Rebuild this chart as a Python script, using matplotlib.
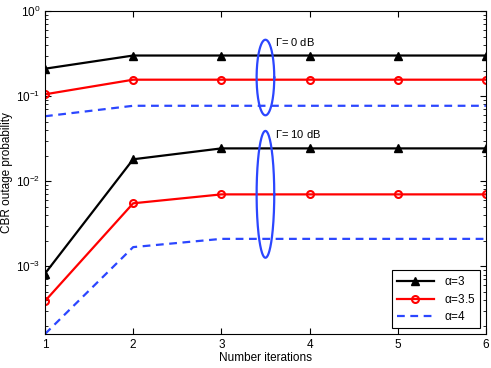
import numpy as np
import matplotlib
matplotlib.use("Agg")
import matplotlib.pyplot as plt

plt.rcParams['font.family'] = ['Liberation Sans', 'DejaVu Sans']
plt.rcParams['mathtext.fontset'] = 'custom'
plt.rcParams['mathtext.rm'] = 'Liberation Sans'
plt.rcParams['mathtext.it'] = 'Liberation Sans'

iterations = [1, 2, 3, 4, 5, 6]

# Gamma = 0 dB
a3_g0 = [0.21, 0.30, 0.30, 0.30, 0.30, 0.30]
a35_g0 = [0.105, 0.156, 0.156, 0.156, 0.156, 0.156]
a4_g0 = [0.058, 0.077, 0.077, 0.077, 0.077, 0.077]

# Gamma = 10 dB
a3_g10 = [8.2e-4, 0.0181, 0.0243, 0.0243, 0.0243, 0.0243]
a35_g10 = [3.9e-4, 5.5e-3, 7.0e-3, 7.0e-3, 7.0e-3, 7.0e-3]
a4_g10 = [1.6e-4, 1.68e-3, 2.1e-3, 2.1e-3, 2.1e-3, 2.1e-3]

BLUE = '#2b46ff'

fig = plt.figure(figsize=(4.91, 3.68), dpi=100)
ax = fig.add_axes([0.0916, 0.0924, 0.898, 0.8776])

lw = 1.6
dash = (0, (3.5, 2.5))
ax.plot(iterations, a3_g0, color='k', lw=lw, marker='^', ms=5.5, label=r'$\alpha$=3')
ax.plot(iterations, a35_g0, color='r', lw=lw, marker='o', ms=5, mfc='none', mew=1.5, label=r'$\alpha$=3.5')
ax.plot(iterations, a4_g0, color=BLUE, lw=lw, ls=dash, label=r'$\alpha$=4')

ax.plot(iterations, a3_g10, color='k', lw=lw, marker='^', ms=5.5)
ax.plot(iterations, a35_g10, color='r', lw=lw, marker='o', ms=5, mfc='none', mew=1.5)
ax.plot(iterations, a4_g10, color=BLUE, lw=lw, ls=dash)

# ellipses grouping the curves (drawn in log space)
t = np.linspace(0, 2 * np.pi, 200)
for top, bot in [(0.46, 0.0595), (0.039, 1.26e-3)]:
    lc = (np.log10(top) + np.log10(bot)) / 2
    lr = (np.log10(top) - np.log10(bot)) / 2
    ax.plot(3.5 + 0.1 * np.cos(t), 10 ** (lc + lr * np.sin(t)), color=BLUE, lw=1.6)

ax.text(3.61, 0.43, r'$\Gamma$= 0 dB', fontsize=8, va='center', ha='left')
ax.text(3.61, 0.036, r'$\Gamma$= 10 dB', fontsize=8, va='center', ha='left')

ax.set_yscale('log')
ax.set_xlim(1, 6)
ax.set_ylim(1.6e-4, 1)
ax.set_xticks(iterations)
ax.tick_params(which='both', direction='in', top=True, right=True, labelsize=8.5)
ax.tick_params(which='major', length=4)
ax.tick_params(which='minor', length=2)
ax.set_xlabel('Number iterations', fontsize=8.5, labelpad=1)
ax.set_ylabel('CBR outage probability', fontsize=8.5, labelpad=2)

leg = ax.legend(loc='lower right', fontsize=8.5, fancybox=False, framealpha=1,
                edgecolor='k', handlelength=3.2, borderpad=0.4, labelspacing=0.4,
                borderaxespad=0.5)
leg.get_frame().set_linewidth(0.8)

fig.savefig('out.png', dpi=100)
